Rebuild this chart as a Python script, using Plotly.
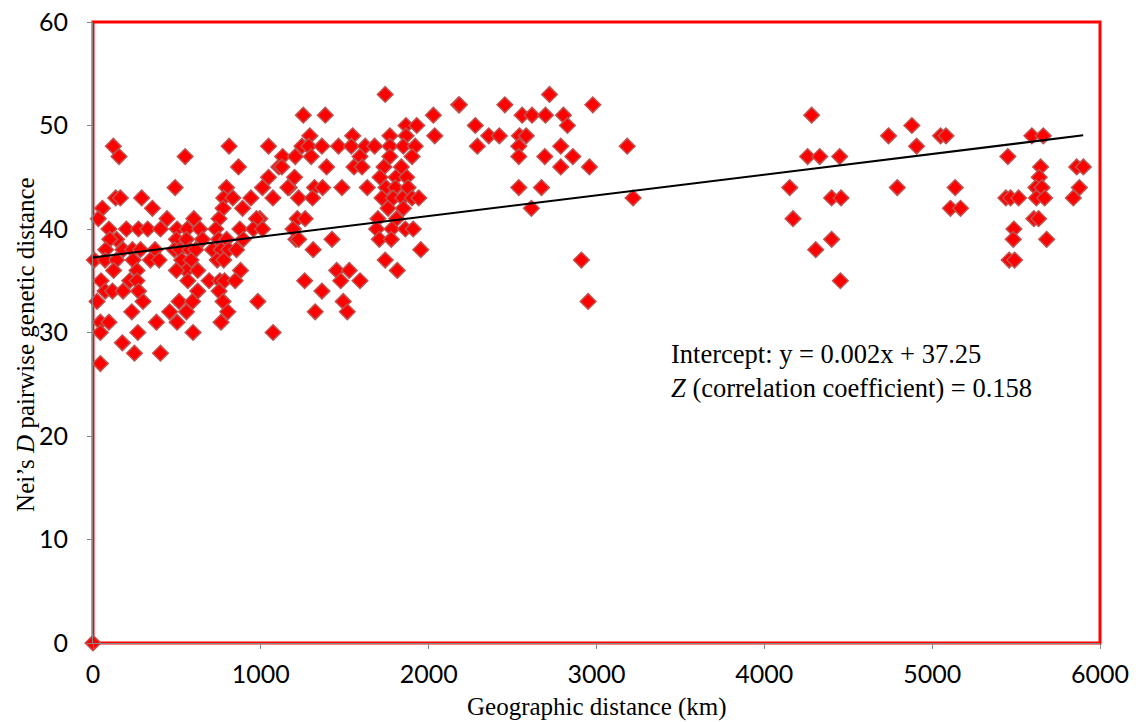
import plotly.graph_objects as go

# Geographic distance (km)
x_km = [
    0,
    121, 155, 549, 811, 1046, 867, 1107, 1130,
    489, 795, 1010, 1046, 1169,
    135, 163, 290, 779, 833, 941, 1072,
    56, 354, 775, 891,
    32, 441, 601, 751, 994, 974,
    95, 199, 271, 326, 402, 501, 561, 636, 732, 875, 955, 1010, 1193,
    140, 100, 497, 557, 652, 748, 796, 895, 1209,
    76, 179, 235, 283, 370, 485, 517, 577, 612, 712, 763, 808, 855,
    8, 72, 140, 239, 342, 394, 529, 584, 740, 779,
    123, 262, 557, 624, 879, 497,
    48, 219, 262, 565, 692, 756, 784, 847,
    72, 116, 179, 271, 624, 751,
    24, 298, 513, 593, 775, 982,
    231, 457, 557, 803,
    44, 95, 378, 501, 763,
    44, 267, 596, 1073,
    175, 247, 402, 44,
    # cluster 1100-2100 km
    1741, 1253, 1384, 2028, 2179,
    1292, 1547, 1769, 1865, 1929, 2036, 1865,
    1245, 1285, 1364, 1463, 1539, 1622, 1678, 1769, 1849, 1920,
    1205, 1300, 1591, 1769, 1901,
    1125, 1392, 1555, 1603, 1734, 1837,
    1201, 1710, 1805, 1869,
    1161, 1320, 1368, 1483, 1634, 1746, 1801, 1877,
    1225, 1308, 1722, 1789, 1845, 1901, 1941,
    1758, 1849,
    1217, 1264, 1698, 1809,
    1193, 1690, 1781, 1861, 1908,
    1225, 1424, 1706, 1777,
    1312, 1953,
    1741, 1813, 1452, 1527,
    1476, 1591, 1261,
    1364, 1491, 1324, 1515,
    # 2100-3300 km
    2183, 2454, 2720, 2978,
    2557, 2616, 2696, 2803,
    2278, 2827,
    2358, 2421, 2541, 2581,
    2290, 2537, 2787,
    2537, 2692, 2859,
    2787, 2958,
    2537, 2672,
    2612, 2910, 2950,
    3183, 3218,
    # 4100-5000 km
    4282, 4258, 4330, 4449, 4151, 4401, 4457, 4171, 4401, 4306, 4453,
    4740, 4879, 4907, 4792, 5050,
    # 5000-6000 km
    5082, 5594, 5662, 5451, 5646, 5861, 5901, 5638, 5618, 5654, 5877, 5137,
    5439, 5467, 5515, 5621, 5670, 5841, 5109, 5169, 5606, 5634,
    5487, 5483, 5682, 5459, 5491,
]

# Nei's D pairwise genetic distance
nei_d = [
    0,
    48, 47, 47, 48, 48, 46, 46, 47,
    44, 44, 44, 45, 44,
    43, 43, 43, 43, 43, 43, 43,
    42, 42, 42, 42,
    41, 41, 41, 41, 41, 41,
    40, 40, 40, 40, 40, 40, 40, 40, 40, 40, 40, 40, 40,
    39, 39, 39, 39, 39, 39, 39, 39, 39,
    38, 38, 38, 38, 38, 38, 38, 38, 38, 38, 38, 38, 38,
    37, 37, 37, 37, 37, 37, 37, 37, 37, 37,
    36, 36, 36, 36, 36, 36,
    35, 35, 35, 35, 35, 35, 35, 35,
    34, 34, 34, 34, 34, 34,
    33, 33, 33, 33, 33, 33,
    32, 32, 32, 32,
    31, 31, 31, 31, 31,
    30, 30, 30, 30,
    29, 28, 28, 27,
    53, 51, 51, 51, 52,
    49, 49, 49, 50, 50, 49, 49,
    48, 48, 48, 48, 48, 48, 48, 48, 48, 48,
    47, 47, 47, 47, 47,
    46, 46, 46, 46, 46, 46,
    45, 45, 45, 45,
    44, 44, 44, 44, 44, 44, 44, 44,
    43, 43, 43, 43, 43, 43, 43,
    42, 42,
    41, 41, 41, 41,
    40, 40, 40, 40, 40,
    39, 39, 39, 39,
    38, 38,
    37, 36, 36, 36,
    35, 35, 35,
    34, 33, 32, 32,
    52, 52, 53, 52,
    51, 51, 51, 51,
    50, 50,
    49, 49, 49, 49,
    48, 48, 48,
    47, 47, 47,
    46, 46,
    44, 44,
    42, 37, 33,
    48, 43,
    51, 47, 47, 47, 44, 43, 43, 41, 39, 38, 35,
    49, 50, 48, 44, 49,
    49, 49, 49, 47, 46, 46, 46, 45, 44, 44, 44, 44,
    43, 43, 43, 43, 43, 43, 42, 42, 41, 41,
    40, 39, 39, 37, 37,
]

trend_slope = 0.002
trend_intercept = 37.25
trend_x = [0, 5900]
trend_y = [trend_slope * v + trend_intercept for v in trend_x]

x_ticks = [0, 1000, 2000, 3000, 4000, 5000, 6000]
y_ticks = [0, 10, 20, 30, 40, 50, 60]

fig = go.Figure()
fig.add_trace(go.Scatter(
    x=x_km, y=nei_d, mode="markers",
    marker=dict(symbol="diamond", size=12, color="#FF0000",
                line=dict(color="#C0504D", width=1.5)),
    showlegend=False, cliponaxis=False,
))
fig.add_trace(go.Scatter(
    x=trend_x, y=trend_y, mode="lines",
    line=dict(color="#000000", width=2), showlegend=False,
))

axis_common = dict(
    showgrid=False, zeroline=False, showline=True, linecolor="#868686", linewidth=1,
    ticks="outside", tickcolor="#868686", ticklen=5, tickwidth=1, automargin=False,
    ticklabeloverflow="allow",
    tickfont=dict(family="Lato, Carlito, sans-serif", size=25, color="#000000"),
)
fig.update_xaxes(range=[0, 6000], tickvals=x_ticks, ticklabelstandoff=4, **axis_common)
fig.update_yaxes(range=[0, 60], tickvals=y_ticks, ticklabelstandoff=14, **axis_common)

fig.add_shape(type="rect", xref="paper", yref="paper", x0=0, y0=0, x1=1, y1=1,
              line=dict(color="#FF0000", width=3), layer="below")

serif = "Liberation Serif, Times New Roman, serif"
fig.add_annotation(xref="paper", yref="paper", x=0.5, y=0, yshift=-64,
                   xanchor="center", yanchor="middle", showarrow=False,
                   text="Geographic distance (km)",
                   font=dict(family=serif, size=25, color="#000000"))
fig.add_annotation(xref="paper", yref="paper", x=0, y=0.48, xshift=-67,
                   xanchor="center", yanchor="middle", showarrow=False, textangle=-90,
                   text="Nei’s <i>D</i> pairwise genetic distance",
                   font=dict(family=serif, size=25, color="#000000"))
fig.add_annotation(xref="x", yref="y", x=3430, y=29.6, xanchor="left", yanchor="top",
                   showarrow=False, align="left",
                   text="Intercept: y = 0.002x + 37.25<br><i>Z</i> (correlation coefficient) = 0.158",
                   font=dict(family=serif, size=26.5, color="#000000"))

fig.update_layout(
    width=1136, height=722,
    margin=dict(l=93, r=36, t=22, b=79),
    paper_bgcolor="#FFFFFF", plot_bgcolor="#FFFFFF",
)

fig.write_html("out.html")
